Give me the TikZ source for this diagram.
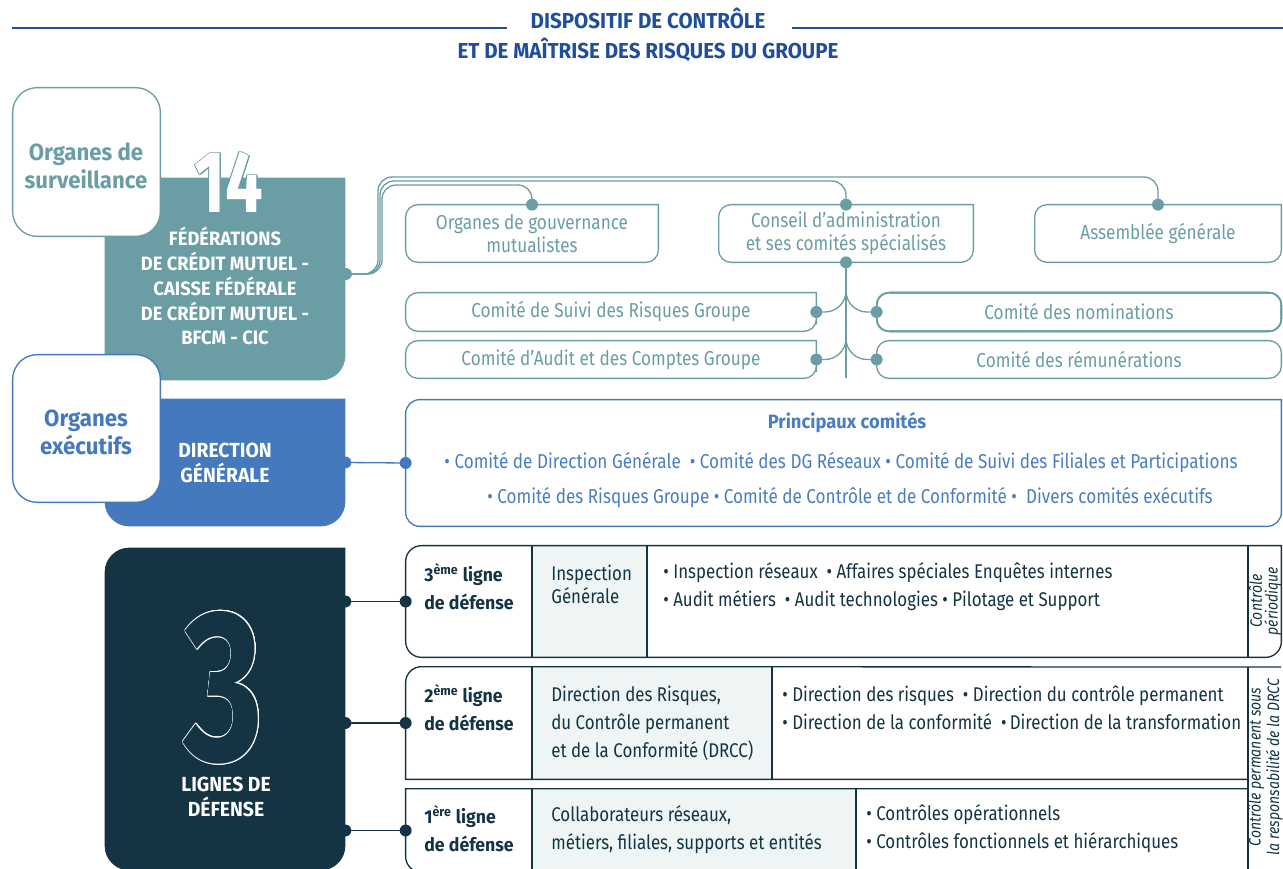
\documentclass[tikz,border=0pt]{standalone}
\usepackage{fontspec}
\setmainfont{Fira Sans}[UprightFeatures={FakeStretch=0.85},ItalicFeatures={FakeStretch=0.85},BoldFeatures={FakeStretch=0.95}]
\usepackage{contour}
\contourlength{0.5pt}
\usetikzlibrary{fit}

\definecolor{govteal}{HTML}{6A9EA4}
\definecolor{dgblue}{HTML}{4479BD}
\definecolor{comblue}{HTML}{4A7EC0}
\definecolor{lignedark}{HTML}{143443}
\definecolor{cellfill}{HTML}{EEF5F4}
\definecolor{titleblue}{HTML}{1F4E9C}

% box with a square top right corner
\newcommand\cutbox[3]{%
  \path[#1] (#2.north) [rounded corners=#3] -- (#2.north west) -- (#2.south west)
    -- (#2.south east) -- (#2.east) [sharp corners] -- (#2.north east) -- cycle;}

\begin{document}
\begin{tikzpicture}[x=0.02cm,y=-0.02cm,
    spanbox/.style={fit={#1},inner sep=0pt},
    govline/.style={draw=govteal,line width=0.75pt},
    blueline/.style={draw=dgblue,line width=0.75pt},
    rowline/.style={draw=lignedark,line width=0.75pt},
    govtext/.style={text=govteal,align=center,font=\fontsize{11.5}{13}\selectfont},
    captext/.style={text=white,align=center,font=\bfseries\fontsize{11.6}{14.2}\selectfont},
    sidetitle/.style={align=center,font=\bfseries\fontsize{13.3}{16}\selectfont},
    comtext/.style={text=comblue,font=\fontsize{11.45}{13}\selectfont},
    celltext/.style={anchor=west,inner sep=0pt,align=left,text=lignedark,font=\fontsize{11.3}{15.9}\selectfont},
    headtext/.style={anchor=west,inner sep=0pt,align=left,text=lignedark,font=\bfseries\fontsize{10.6}{15.9}\selectfont},
    sidetext/.style={rotate=90,align=center,text=lignedark,font=\itshape\fontsize{9.4}{9}\selectfont}]
\useasboundingbox (0,0) rectangle (1283,868);

% title
\node[text=titleblue,align=center,font=\bfseries\fontsize{12.3}{17}\selectfont] (title) at (648,35)
    {DISPOSITIF DE CONTRÔLE\\ET DE MAÎTRISE DES RISQUES DU GROUPE};
\draw[titleblue,line width=0.9pt] (12,28) -- (507,28);
\draw[titleblue,line width=0.9pt] (792,28) -- (1283,28);

% coloured blocks
\node[spanbox={(105,178) (345,380)}] (fed) {};
\cutbox{fill=govteal}{fed}{14pt}
\node[spanbox={(105,399) (345,526)}] (dg) {};
\cutbox{fill=dgblue}{dg}{14pt}
\node[spanbox={(105,548) (345,870)}] (lignes) {};
\cutbox{fill=lignedark}{lignes}{14pt}

\node[text=white,font=\bfseries\fontsize{50}{50}\selectfont] (fednum) at (229,183)
    {\scalebox{0.8}[1]{\contour{govteal}{14}}};
\node[captext,font=\bfseries\fontsize{11}{14.2}\selectfont] (fedtext) at (225,286)
    {FÉDÉRATIONS\\DE CRÉDIT MUTUEL -\\CAISSE FÉDÉRALE\\DE CRÉDIT MUTUEL -\\BFCM - CIC};
\node[captext] (dgtext) at (225,463) {DIRECTION\\GÉNÉRALE};
\node[text=lignedark,font=\bfseries\fontsize{123}{123}\selectfont] (lignesnum) at (224,688)
    {\scalebox{0.75}[1]{\contour{white}{3}}};
\node[captext] (lignestext) at (226,797) {LIGNES DE\\DÉFENSE};

% side labels
\node[spanbox={(13,88) (160,236)}] (surv) {};
\node[spanbox={(13,355) (160,502)}] (exec) {};
\draw[govline,fill=white,rounded corners=14pt] (surv.north west) rectangle (surv.south east);
\draw[blueline,fill=white,rounded corners=14pt] (exec.north west) rectangle (exec.south east);
\node[sidetitle,text=govteal] (survtext) at (86,166) {Organes de\\surveillance};
\node[sidetitle,text=dgblue] (exectext) at (86,432) {Organes\\exécutifs};

% governance
\node[spanbox={(406,205) (658,262)}] (gouv) {};
\node[spanbox={(719,205) (973,262)}] (conseil) {};
\node[spanbox={(1035,205) (1281,262)}] (assemblee) {};
\node[spanbox={(406,293) (816,331)}] (suivi) {};
\node[spanbox={(406,341) (816,378)}] (audit) {};
\node[spanbox={(877,293) (1281,331)}] (nomin) {};
\node[spanbox={(877,341) (1281,378)}] (remun) {};
\foreach \b in {gouv,conseil,assemblee,suivi,audit}
    \cutbox{govline}{\b}{7pt}
\draw[govline,rounded corners=7pt] (nomin.north west) rectangle (nomin.south east);
\draw[govline,rounded corners=7pt] (remun.north west) rectangle (remun.south east);
\node[govtext] (gouvtext) at (gouv) {Organes de gouvernance\\mutualistes};
\node[govtext] (conseiltext) at (conseil) {Conseil d’administration\\et ses comités spécialisés};
\node[govtext] (assembleetext) at (assemblee) {Assemblée générale};
\node[govtext] (suivitext) at (suivi) {Comité de Suivi des Risques Groupe};
\node[govtext] (audittext) at (audit) {Comité d’Audit et des Comptes Groupe};
\node[govtext] (nomintext) at (nomin) {Comité des nominations};
\node[govtext] (remuntext) at (remun) {Comité des rémunérations};

\coordinate (fedout) at (346,274);
\draw[govline,rounded corners=8pt] (fedout) -| (378,177) -| (assemblee.north);
\draw[govline,rounded corners=8pt] (fedout) -| (380,181) -| (conseil.north);
\draw[govline,rounded corners=8pt] (fedout) -| (382,185) -| (gouv.north);
\draw[govline] (conseil.south) -- (conseil.south |- audit.south);
\foreach \b in {suivi.east,audit.east,nomin.west,remun.west}
    \draw[govline,rounded corners=12pt] (conseil.south) |- (\b);
\foreach \p in {fedout,gouv.north,conseil.north,assemblee.north,conseil.south,
        suivi.east,audit.east,nomin.west,remun.west}
    \fill[govteal] (\p) circle[radius=3.4pt];

% executive committees
\node[spanbox={(406,400) (1281,526)}] (princ) {};
\cutbox{blueline}{princ}{8pt}
\node[comtext,font=\bfseries\fontsize{11}{13}\selectfont] (princtitle) at (847,423) {Principaux comités};
\node[comtext] (princa) at (841,463)
    {• Comité de Direction Générale \ • Comité des DG Réseaux • Comité de Suivi des Filiales et Participations};
\node[comtext] (princb) at (850,498)
    {• Comité des Risques Groupe • Comité de Contrôle et de Conformité • \ Divers comités exécutifs};
\draw[blueline] (dg.east) -- (princ.west);
\fill[dgblue] (dg.east) circle[radius=3.4pt];
\fill[dgblue] (princ.west) circle[radius=3.4pt];

% lines of defence
\node[spanbox={(406,546) (1281,657)}] (row3) {};
\node[spanbox={(406,667) (1248,779)}] (row2) {};
\node[spanbox={(406,789) (1248,872)}] (row1) {};
\fill[cellfill] (532,546) rectangle (647,657);
\fill[cellfill] (532,667) rectangle (772,779);
\fill[cellfill] (532,789) rectangle (856,872);
\cutbox{rowline}{row3}{9pt}
\draw[rowline] (1281,667) [rounded corners=9pt] -- (row2.north west) -- (row2.west)
    [sharp corners] -- (row2.south west) -- (row2.south east);
\draw[rowline] (row1.north east) -- (row1.north west) -- (row1.west)
    [rounded corners=9pt] -- (row1.south west) -- (row1.south east);
\draw[rowline] (532,546) -- (532,657) (647,546) -- (647,657) (1248,546) -- (1248,657);
\draw[rowline] (532,667) -- (532,779) (772,667) -- (772,779);
\draw[rowline] (532,789) -- (532,872) (856,789) -- (856,872);
\draw[rowline] (1248,667) -- (1248,872);

\node[headtext] (r3head) at (424,587) {3\textsuperscript{ème} ligne\\de défense};
\node[celltext,font=\fontsize{11.3}{13}\selectfont] (r3who) at (551,584) {Inspection\\Générale};
\node[celltext] (r3what) at (663,587)
    {• Inspection réseaux \ • Affaires spéciales Enquêtes internes\\• Audit métiers \ • Audit technologies • Pilotage et Support};
\node[headtext] (r2head) at (424,708) {2\textsuperscript{ème} ligne\\de défense};
\node[celltext] (r2who) at (551,723) {Direction des Risques,\\du Contrôle permanent\\et de la Conformité (DRCC)};
\node[celltext] (r2what) at (782,708)
    {• Direction des risques \ • Direction du contrôle permanent\\• Direction de la conformité \ •\,Direction de la transformation};
\node[headtext] (r1head) at (424,829) {1\textsuperscript{ère} ligne\\de défense};
\node[celltext] (r1who) at (551,830) {Collaborateurs réseaux,\\métiers, filiales, supports et entités};
\node[celltext] (r1what) at (866,829) {• Contrôles opérationnels\\• Contrôles fonctionnels et hiérarchiques};
\node[sidetext] (periodique) at (1265,601) {Contrôle\\périodique};
\node[sidetext] (permanent) at (1265,767) {Contrôle permanent sous\\la responsabilité de la DRCC};

\foreach \r in {row3,row2,row1} {
    \draw[rowline] (lignes.east |- \r.west) -- (\r.west);
    \fill[lignedark] (lignes.east |- \r.west) circle[radius=3.4pt];
    \fill[lignedark] (\r.west) circle[radius=3.4pt];
}
\end{tikzpicture}
\end{document}
